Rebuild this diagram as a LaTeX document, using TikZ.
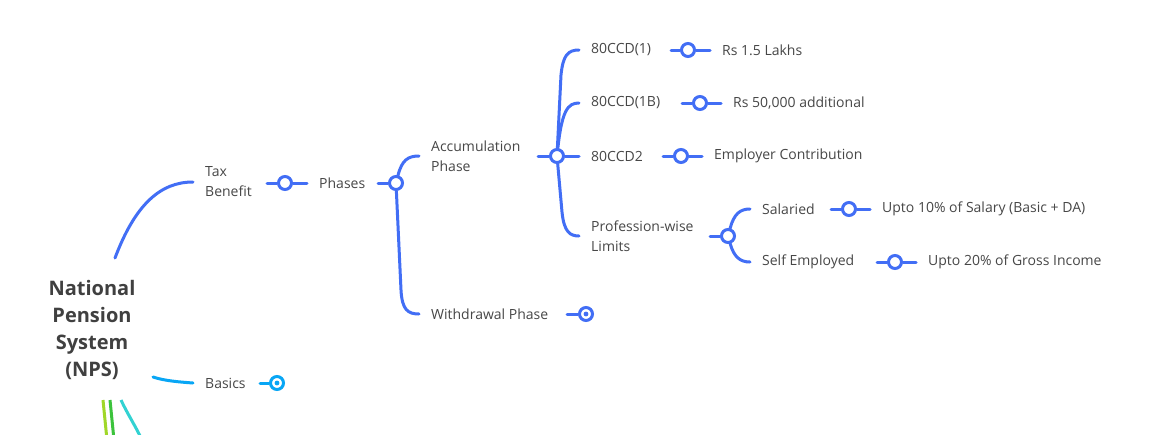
\documentclass[tikz,border=0pt]{standalone}
\usepackage{fontspec}
\setmainfont{Open Sans}
\begin{document}
\begin{tikzpicture}[x=1pt,y=-1pt,
  lbl/.style={anchor=west,inner sep=0pt,text=black!72,font=\fontsize{14}{20}\selectfont,align=left},
  cn/.style={circle,draw=nblue,fill=white,line width=3pt,minimum size=13pt,inner sep=0pt},
  cd/.style={cn,path picture={\fill[nblue] (path picture bounding box.center) circle (2.4pt);}},
  ln/.style={draw=nblue,line width=3pt,line cap=round}]
\definecolor{nblue}{RGB}{66,110,245}
\definecolor{ncyan}{RGB}{8,166,245}
\useasboundingbox (0,0) rectangle (1162,434);
\fill[white] (0,0) rectangle (1162,434);
\node[font=\bfseries\fontsize{20}{27}\selectfont,text=black!75,align=center] (root) at (92,330) {National\\Pension\\System\\(NPS)};
\coordinate (r1) at (115,258);
\node[lbl] (tax) at (205,182) {Tax\\Benefit};
\node[cn] (c1) at (285,183) {};
\node[lbl] (ph) at (319,183) {Phases};
\node[cn] (c2) at (396,183) {};
\node[lbl] (acc) at (431,156) {Accumulation\\Phase};
\node[lbl] (wd) at (431,314) {Withdrawal Phase};
\node[cn,cd] (c3) at (586,314) {};
\node[cn] (c4) at (557,156) {};
\node[lbl] (a1) at (591,50) {80CCD(1)};
\node[lbl] (a2) at (591,103) {80CCD(1B)};
\node[lbl] (a3) at (591,156) {80CCD2};
\node[lbl] (a4) at (591,236) {Profession-wise\\Limits};
\node[cn] (d1) at (688,50) {};
\node[cn] (d2) at (700,103) {};
\node[cn] (d3) at (681,156) {};
\node[cn] (d4) at (728,236) {};
\node[lbl] (e1) at (722,50) {Rs 1.5 Lakhs};
\node[lbl] (e2) at (733,103) {Rs 50,000 additional};
\node[lbl] (e3) at (714,156) {Employer Contribution};
\node[lbl] (s1) at (762,209) {Salaried};
\node[lbl] (s2) at (762,262) {Self Employed};
\node[cn] (f1) at (849,209) {};
\node[cn] (f2) at (895,262) {};
\node[lbl] (g1) at (882,209) {Upto 10\% of Salary (Basic + DA)};
\node[lbl] (g2) at (928,262) {Upto 20\% of Gross Income};
\node[lbl] (bas) at (205,383) {Basics};
\node[cn,cd,draw=ncyan,path picture={\fill[ncyan] (path picture bounding box.center) circle (2.4pt);}] (cb) at (277,383) {};
% connectors
\draw[ln] (r1) .. controls (135,205) and (160,182) .. (193,182);
\draw[ln] (267,183) -- (c1) -- (307,183);
\draw[ln] (378,183) -- (c2);
\draw[ln] (c2) .. controls (402,160) and (408,156) .. (419,156);
\draw[ln] (c2) -- (401,290) .. controls (402,310) and (408,314) .. ([xshift=-12pt]wd.west);
\draw[ln] (567,314) -- (c3);
\draw[ln] (538,156) -- (c4) -- ([xshift=-12pt]a3.west);
\draw[ln] (c4) -- (561,75) .. controls (563,55) and (568,50) .. ([xshift=-12pt]a1.west);
\draw[ln] (c4) .. controls (562,110) and (568,103) .. ([xshift=-12pt]a2.west);
\draw[ln] (c4) -- (562,212) .. controls (564,232) and (570,236) .. (579,236);
\draw[ln] (671,50) -- (d1) -- ([xshift=-12pt]e1.west);
\draw[ln] (682,103) -- (d2) -- ([xshift=-12pt]e2.west);
\draw[ln] (663,156) -- (d3) -- ([xshift=-12pt]e3.west);
\draw[ln] (710,236) -- (d4);
\draw[ln] (d4) .. controls (734,214) and (740,209) .. ([xshift=-12pt]s1.west);
\draw[ln] (d4) .. controls (734,257) and (740,262) .. ([xshift=-12pt]s2.west);
\draw[ln] (831,209) -- (f1) -- ([xshift=-12pt]g1.west);
\draw[ln] (877,262) -- (f2) -- ([xshift=-12pt]g2.west);
\draw[ln,draw=ncyan] (153,377) .. controls (165,381) and (180,382) .. ([xshift=-12pt]bas.west);
\draw[ln,draw=ncyan] (260,383) -- (cb);
\draw[line width=3pt,draw={rgb,255:red,160;green,215;blue,40}] (103,400) -- (107,440);
\draw[line width=3pt,draw={rgb,255:red,60;green,195;blue,60}] (110,400) -- (114,440);
\draw[line width=3pt,draw={rgb,255:red,50;green,210;blue,210}] (121,400) .. controls (128,415) and (135,425) .. (142,440);
\end{tikzpicture}
\end{document}
